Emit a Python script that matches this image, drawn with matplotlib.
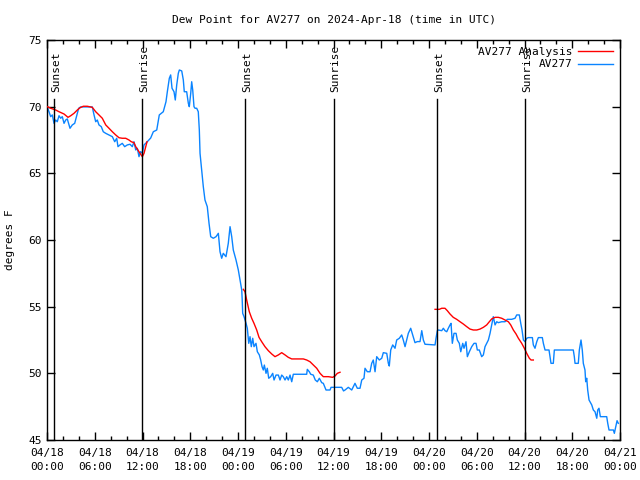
import numpy as np
import matplotlib
matplotlib.use('Agg')
from matplotlib import pyplot as plt
from matplotlib.ticker import MultipleLocator
from matplotlib.transforms import offset_copy

# hours since 04/18 00:00 UTC, dew point in F
obs_h = [0.00, 0.25, 0.46, 0.67, 0.88, 1.09, 1.29, 1.51, 1.72, 1.92, 2.14, 2.35, 2.55, 2.89, 3.18, 3.48,
         3.81, 3.98, 4.23, 5.69, 5.91, 6.12, 6.32, 6.53, 6.82, 7.07, 7.38, 7.79, 8.21, 8.51, 8.76, 8.92,
         9.17, 9.46, 9.76, 10.09, 10.43, 10.72, 10.93, 11.15, 11.35, 11.56, 11.77, 11.98, 12.19, 12.60,
         13.03, 13.36, 13.79, 14.11, 14.61, 14.95, 15.12, 15.37, 15.54, 15.71, 15.96, 16.12, 16.30, 16.50,
         16.63, 16.93, 17.13, 17.25, 17.55, 17.76, 17.88, 18.06, 18.18, 18.31, 18.47, 18.60, 18.81, 19.01,
         19.14, 19.23, 19.44, 19.64, 19.85, 20.14, 20.36, 20.57, 20.90, 21.24, 21.53, 21.74, 21.95, 22.15,
         22.49, 22.78, 23.00, 23.21, 23.41, 23.75, 24.04, 24.25, 24.47, 24.53, 24.59, 24.76, 25.01, 25.17,
         25.35, 25.51, 25.67, 25.85, 26.01, 26.26, 26.43, 26.68, 26.85, 27.02, 27.18, 27.31, 27.52, 27.68,
         27.86, 28.11, 28.36, 28.53, 28.78, 29.07, 29.28, 29.49, 29.69, 29.91, 30.12, 30.32, 30.54, 30.75,
         30.95, 32.63, 32.71, 32.96, 33.14, 33.46, 33.71, 33.97, 34.22, 34.52, 34.72, 35.06, 35.56, 35.69,
         37.03, 37.26, 37.45, 37.86, 38.29, 38.70, 38.99, 39.33, 39.55, 39.83, 39.96, 40.25, 40.59, 40.80,
         41.00, 41.22, 41.43, 41.76, 42.06, 42.26, 42.69, 42.89, 43.01, 43.19, 43.44, 43.73, 43.94, 44.27,
         44.57, 44.77, 44.99, 45.20, 45.40, 45.70, 45.95, 46.24, 46.53, 46.87, 47.09, 47.29, 47.50, 48.76,
         48.88, 49.05, 49.17, 49.60, 49.80, 50.01, 50.23, 50.43, 50.64, 50.77, 50.93, 51.14, 51.40, 51.56,
         51.81, 51.99, 52.24, 52.40, 52.65, 52.82, 53.07, 53.37, 53.66, 53.91, 54.07, 54.32, 54.62, 54.83,
         55.04, 55.25, 55.46, 55.67, 55.88, 56.08, 56.30, 56.51, 56.71, 57.14, 57.55, 57.84, 58.39, 58.81,
         59.02, 59.35, 59.53, 59.69, 59.86, 60.07, 60.28, 60.48, 60.99, 61.11, 61.32, 61.54, 61.74, 62.24,
         62.37, 62.58, 63.08, 63.21, 63.33, 63.62, 63.75, 66.13, 66.26, 66.35, 66.76, 66.89, 67.10, 67.26,
         67.39, 67.60, 67.69, 67.82, 67.94, 68.11, 68.23, 68.45, 68.65, 68.86, 69.08, 69.20, 69.36, 69.53,
         70.33, 70.46, 70.62, 71.17, 71.29, 71.47, 71.63, 71.79]
obs_f = [70.0, 69.62, 69.25, 69.38, 68.75, 69.0, 68.87, 69.32, 69.13, 69.25, 68.75, 69.0, 69.08, 68.38, 68.63, 68.75,
         69.5, 69.88, 69.98, 69.98, 69.38, 68.87, 69.0, 68.63, 68.5, 68.12, 68.0, 67.88, 67.75, 67.37, 67.63, 67.0,
         67.13, 67.25, 67.0, 67.13, 67.18, 67.0, 67.37, 66.75, 66.88, 66.25, 66.63, 66.5, 67.13, 67.37,
         67.65, 68.12, 68.25, 69.38, 69.62, 70.37, 71.12, 72.13, 72.38, 71.38, 71.12, 70.5, 71.63, 72.5,
         72.75, 72.68, 72.0, 71.12, 71.12, 70.25, 70.0, 71.0, 71.87, 71.25, 70.0, 69.88, 69.88, 69.62,
         68.25, 66.5, 65.25, 64.0, 63.0, 62.5, 61.25, 60.25, 60.13, 60.25, 60.5, 59.12, 58.63, 59.0,
         58.75, 59.75, 61.0, 60.25, 59.25, 58.5, 57.75, 57.0, 56.25, 55.5, 54.5, 54.25, 53.75, 53.38,
         52.25, 52.75, 52.0, 52.63, 52.0, 52.25, 51.62, 51.38, 51.0, 50.5, 50.25, 50.62, 50.0, 50.38,
         49.63, 49.75, 50.0, 49.5, 49.87, 49.87, 49.5, 49.87, 49.75, 49.5, 49.75, 49.5, 49.87, 49.37,
         49.93, 49.93, 50.3, 50.12, 49.93, 49.87, 49.5, 49.37, 49.63, 49.3, 49.25, 48.75, 48.75, 48.95,
         48.95, 48.68, 48.75, 48.95, 48.75, 49.25, 48.88, 48.88, 49.5, 49.63, 50.38, 50.12, 50.12, 50.75,
         51.0, 50.12, 51.25, 51.0, 51.13, 51.55, 51.5, 50.75, 50.55, 51.75, 52.13, 51.88, 52.5, 52.63,
         52.88, 52.5, 52.0, 52.5, 53.0, 53.38, 52.88, 52.3, 52.38, 52.38, 53.2, 52.5, 52.18, 52.13,
         52.63, 53.2, 53.25, 53.2, 53.38, 53.2, 53.12, 53.38, 53.63, 53.75, 52.25, 53.0, 53.0, 52.5,
         52.25, 51.62, 52.25, 51.88, 52.37, 51.25, 51.62, 52.0, 52.25, 52.25, 51.75, 51.75, 51.25, 51.38,
         52.0, 52.25, 52.5, 53.0, 53.63, 54.25, 53.63, 53.87, 53.8, 53.87, 53.87, 54.05, 54.05, 54.13,
         54.38, 54.38, 53.75, 53.25, 52.5, 52.37, 52.63, 52.68, 52.68, 52.13, 51.88, 52.37, 52.68, 52.68,
         52.25, 51.75, 51.75, 51.25, 50.75, 50.75, 51.75, 51.75, 51.25, 50.75, 50.75, 51.75, 52.5, 51.75,
         50.75, 50.25, 49.37, 49.63, 48.75, 48.0, 47.87, 47.63, 47.25, 47.12, 46.63, 47.25, 47.38, 46.75,
         46.75, 46.25, 45.75, 45.75, 45.5, 46.0, 46.45, 46.25]

# analysis, three separate runs
ana1_h = [0.04, 0.46, 1.09, 1.51, 2.14, 2.64, 2.98, 3.39, 3.81, 4.15, 4.56, 5.06, 5.69, 6.12, 6.53,
          6.95, 7.38, 7.79, 8.21, 8.63, 9.05, 9.46, 9.89, 10.30, 10.59, 10.93, 11.15, 11.56, 11.98, 12.19, 12.57]
ana1_f = [70.0, 69.88, 69.75, 69.62, 69.45, 69.2, 69.32, 69.5, 69.75, 69.92, 70.03, 70.03, 69.95, 69.62, 69.38,
          69.13, 68.63, 68.38, 68.12, 67.88, 67.67, 67.63, 67.63, 67.5, 67.37, 67.3, 67.0, 66.62, 66.25, 66.5, 67.37]
ana2_h = [24.67, 24.88, 25.09, 25.42, 25.72, 26.01, 26.35, 26.64, 26.98, 27.39, 27.81, 28.24, 28.65, 29.07, 29.49,
          29.91, 30.32, 30.75, 32.21, 32.63, 33.05, 33.46, 33.89, 34.31, 34.72, 35.35, 35.90, 36.19, 36.48, 36.82]
ana2_f = [56.3, 56.12, 55.5, 54.62, 54.13, 53.75, 53.25, 52.7, 52.37, 52.0, 51.7, 51.45, 51.25, 51.38, 51.55,
          51.38, 51.2, 51.08, 51.08, 51.0, 50.87, 50.63, 50.38, 50.0, 49.75, 49.75, 49.7, 49.8, 50.0, 50.08]
ana3_h = [48.76, 49.30, 49.60, 50.01, 50.30, 50.64, 51.05, 51.48, 51.90, 52.31, 52.74, 53.15, 53.57, 54.00, 54.41,
          54.83, 55.25, 55.58, 55.88, 56.30, 56.71, 57.14, 57.55, 57.97, 58.27, 58.60, 58.94, 59.23, 59.65, 59.98,
          60.28, 60.61, 60.82, 61.11]
ana3_f = [54.8, 54.8, 54.88, 54.88, 54.7, 54.45, 54.2, 54.05, 53.87, 53.7, 53.5, 53.32, 53.25, 53.25, 53.32,
          53.45, 53.63, 53.87, 54.08, 54.2, 54.2, 54.13, 54.0, 53.87, 53.63, 53.25, 52.95, 52.63, 52.25, 51.88,
          51.5, 51.13, 51.0, 51.0]

sun_h = [0.88, 11.94, 24.88, 36.0, 49.05, 60.1]
sun_txt = ['Sunset', 'Sunrise', 'Sunset', 'Sunrise', 'Sunset', 'Sunrise']

tick_h = list(range(0, 73, 6))
tick_lbl = ['04/18\n00:00', '04/18\n06:00', '04/18\n12:00', '04/18\n18:00',
            '04/19\n00:00', '04/19\n06:00', '04/19\n12:00', '04/19\n18:00',
            '04/20\n00:00', '04/20\n06:00', '04/20\n12:00', '04/20\n18:00', '04/21\n00:00']

plt.rcParams['font.family'] = ['DejaVu Sans Mono']
plt.rcParams['font.size'] = 8

fig = plt.figure(figsize=(6.4, 4.8), dpi=100)
ax = fig.add_axes([47/640, 40/480, 573/640, 400/480])

red = '#ff0000'
blue = '#0a84ff'
ax.plot(obs_h, obs_f, color=blue, lw=1.0, zorder=2, label='AV277')
ax.plot(ana1_h, ana1_f, color=red, lw=1.0, zorder=3, label='AV277 Analysis')
ax.plot(ana2_h, ana2_f, color=red, lw=1.0, zorder=3)
ax.plot(ana3_h, ana3_f, color=red, lw=1.0, zorder=3)

# sun lines with rotated labels
tr = offset_copy(ax.get_xaxis_transform(), fig=fig, x=2, y=0, units='dots')
for h, t in zip(sun_h, sun_txt):
    ax.axvline(h, ymin=0, ymax=0.8525, color='black', lw=1.0, zorder=4)
    ax.text(h, 0.87, t, rotation=90, transform=tr, ha='center', va='bottom', fontsize=8)

ax.set_xlim(0, 72)
ax.set_ylim(45, 75)
ax.set_xticks(tick_h)
ax.set_xticklabels(tick_lbl, linespacing=1.45)
ax.xaxis.set_minor_locator(MultipleLocator(2))
ax.set_yticks(np.arange(45, 76, 5))
ax.tick_params(which='both', direction='in', top=True, right=True, width=1)
ax.tick_params(which='major', length=6)
ax.tick_params(axis='x', which='major', pad=6)
ax.tick_params(which='minor', length=3)
for s in ax.spines.values():
    s.set_linewidth(1.0)

ax.set_ylabel('degrees F')
ax.yaxis.set_label_coords(-0.055, 0.5)
ax.set_title('Dew Point for AV277 on 2024-Apr-18 (time in UTC)', fontsize=8, pad=12)

h, l = ax.get_legend_handles_labels()
ax.legend(h[::-1], l[::-1], loc='upper right', frameon=False, markerfirst=False,
          handlelength=3.2, borderaxespad=0.2, labelspacing=0.25, handletextpad=0.5)

fig.savefig('out.png', dpi=100)
